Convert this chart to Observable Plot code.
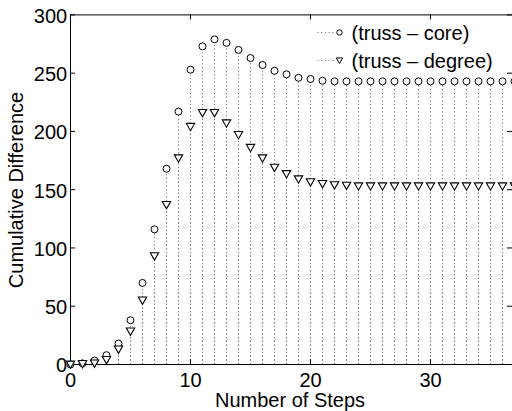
<!DOCTYPE html>
<html><head><meta charset="utf-8">
<script src="https://cdn.jsdelivr.net/npm/d3@7"></script>
<script src="https://cdn.jsdelivr.net/npm/@observablehq/plot@0.6"></script>
<style>body{margin:0;background:#fff} svg{display:block}</style>
</head><body><div id="chart"></div>
<script>
const steps = [0,1,2,3,4,5,6,7,8,9,10,11,12,13,14,15,16,17,18,19,20,21,22,23,24,25,26,27,28,29,30,31,32,33,34,35,36,37];
const core = [0,1,3.4,8,18,38,70,116,168,217,253,273,279,276,270,263,257,252,249,246,245,243.5,243,243,243,243,243,243,243,243,243,243,243,243,243,243,243,243];
const degree = [0,0.5,1,4,13,28.5,55,93,137,177,204,216,216,207,197,186,177,169,163.5,159,156.5,155,154,153.5,153,153,153,153,153,153,153,153,153,153,153,153,153,153];
const seriesNames = ["(truss \u2013 core)", "(truss \u2013 degree)"];
const xTicks = [0,10,20,30];
const yTicks = [0,50,100,150,200,250,300];
const xLabel = "Number of Steps";
const yLabel = "Cumulative Difference";

const coreData = steps.map((s,i) => ({step: s, value: core[i]}));
const degreeData = steps.map((s,i) => ({step: s, value: degree[i]}));

const triDown = {draw(ctx, size){ const r = Math.sqrt(size/Math.PI); ctx.moveTo(-r, -r*0.8); ctx.lineTo(r, -r*0.8); ctx.lineTo(0, r*0.95); ctx.closePath(); }};

const W = 512, H = 411, mL = 70, mR = 0, mT = 14.4, mB = 47;
const innerH = H - mT - mB, innerW = W - mL - mR;
const font = "'Liberation Sans', Arial, Helvetica, sans-serif";
const stem = {stroke: "#666", strokeWidth: 1, strokeDasharray: "1,2.7"};

const chart = Plot.plot({
  width: W, height: H, marginLeft: mL, marginRight: mR, marginTop: mT, marginBottom: mB,
  x: {domain: [0, 37], range: [mL, 514]},
  y: {domain: [0, 300]},
  style: {fontFamily: font, fontSize: "20px", color: "black", background: "#fff"},
  marks: [
    Plot.ruleX(coreData, {x: "step", y1: 0, y2: "value", ...stem}),
    Plot.ruleX(degreeData, {x: "step", y1: 0, y2: "value", ...stem}),
    Plot.ruleY([0, 300], {stroke: "black", strokeWidth: 1}),
    Plot.ruleX([0], {y1: 0, y2: 300, stroke: "black", strokeWidth: 1}),
    Plot.tickX(xTicks, {x: d => d, insetTop: innerH - 5, stroke: "black"}),
    Plot.tickX(xTicks, {x: d => d, insetBottom: innerH - 5, stroke: "black"}),
    Plot.tickY(yTicks, {y: d => d, insetRight: innerW - 5, stroke: "black"}),
    Plot.tickY(yTicks, {y: d => d, insetLeft: innerW - 5, stroke: "black"}),
    Plot.dot(coreData, {x: "step", y: "value", r: 3.5, stroke: "black", strokeWidth: 1, fill: "white"}),
    Plot.dot(degreeData, {x: "step", y: "value", r: 4.2, symbol: triDown, stroke: "black", strokeWidth: 1.1, fill: "white"}),
    Plot.axisX({ticks: xTicks, tickSize: 0, tickPadding: 8.5, fontSize: 20, label: null}),
    Plot.axisY({ticks: yTicks, tickSize: 0, tickPadding: 3.3, fontSize: 20, label: null, dy: 1.5})
  ]
});
document.getElementById("chart").appendChild(chart);

const svg = d3.select(chart);
svg.append("text").attr("x", 290).attr("y", 406.5).attr("text-anchor", "middle")
  .attr("font-family", font).attr("font-size", 20).attr("fill", "black").text(xLabel);
svg.append("text").attr("transform", "translate(23,190) rotate(-90)").attr("text-anchor", "middle")
  .attr("font-family", font).attr("font-size", 20).attr("fill", "black").text(yLabel);

const leg = svg.append("g");
const rows = [32.5, 60.5];
seriesNames.forEach((name, i) => {
  const y = rows[i];
  leg.append("line").attr("x1", 317.5).attr("x2", 336).attr("y1", y).attr("y2", y)
    .attr("stroke", "#666").attr("stroke-width", 1).attr("stroke-dasharray", "1,2.7");
  if (i === 0) {
    leg.append("circle").attr("cx", 339.5).attr("cy", y).attr("r", 2.7)
      .attr("fill", "white").attr("stroke", "black");
  } else {
    const r = 3.2;
    leg.append("path").attr("d", `M${339.5-r},${y-r*0.8}L${339.5+r},${y-r*0.8}L339.5,${y+r*0.95}Z`)
      .attr("fill", "white").attr("stroke", "black");
  }
  leg.append("text").attr("x", 351.5).attr("y", y + 7.3).attr("text-anchor", "start")
    .attr("font-family", font).attr("font-size", 20).attr("fill", "black").text(name);
});
</script>
</body></html>
